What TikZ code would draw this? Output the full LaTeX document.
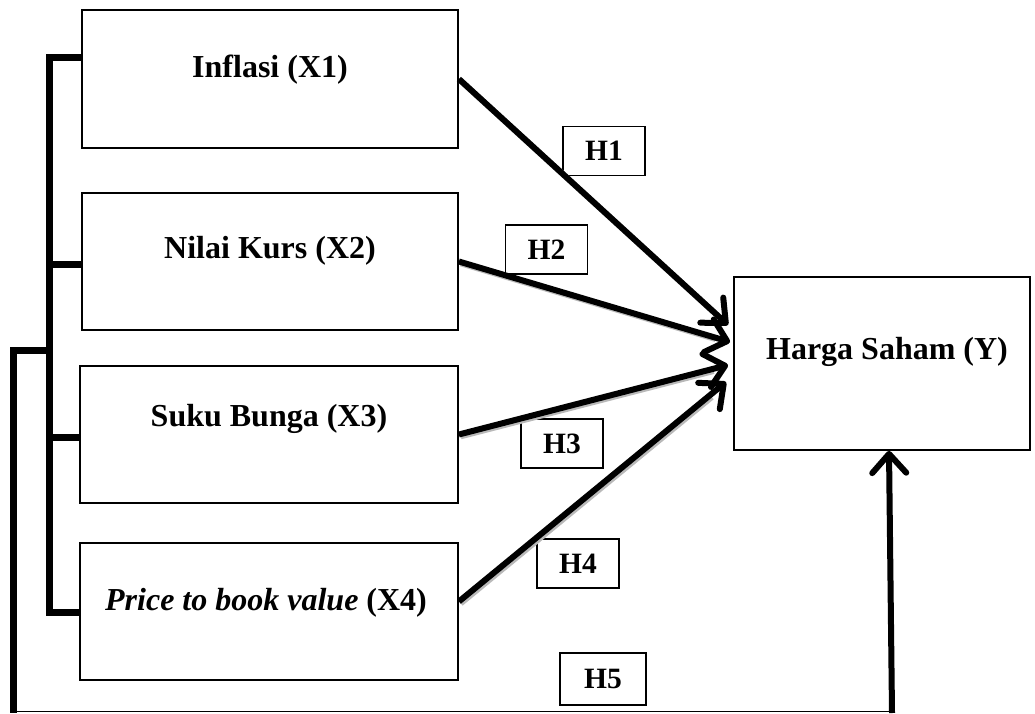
\documentclass[tikz,border=0pt]{standalone}
\usepackage{fontspec}
\setmainfont{Liberation Serif}
\usetikzlibrary{arrows.meta,calc}
\begin{document}
\begin{tikzpicture}[x=1pt,y=1pt,
  varbox/.style={draw,line width=1.8pt,inner sep=0pt},
  maintext/.style={font=\bfseries\fontsize{32}{37}\selectfont,inner sep=0pt},
  hbox/.style={draw,line width=1.5pt,minimum width=82pt,minimum height=49pt,inner sep=0pt,font=\bfseries\fontsize{29.5}{34}\selectfont},
  thick line/.style={line width=7pt},
  hyparrow/.style={line width=6pt,-{Straight Barb[length=19pt,width=34pt,line cap=round,line join=round]}},
  shadowcopy/.style={draw=gray!55,line width=6pt,transform canvas={xshift=1.8pt,yshift=-1.8pt}}
]
\useasboundingbox (0,0) rectangle (1035,713);
% variable boxes
\node[varbox,minimum width=376pt,minimum height=138pt] (b1) at (270,634) {};
\node[varbox,minimum width=376pt,minimum height=137pt] (b2) at (270,451.5) {};
\node[varbox,minimum width=378pt,minimum height=137pt] (b3) at (269,278.5) {};
\node[varbox,minimum width=378pt,minimum height=137pt] (b4) at (269,101.5) {};
\node[varbox,minimum width=296pt,minimum height=173pt] (bY) at (882,349.5) {};
% texts
\node[maintext] (t1) at ($(b1)+(0,9)$) {Inflasi (X1)};
\node[maintext] (t2) at ($(b2)+(0,11)$) {Nilai Kurs (X2)};
\node[maintext] (t3) at ($(b3)+(0,16)$) {Suku Bunga (X3)};
\node[maintext] (t4) at ($(b4)+(-3,9)$) {\textit{Price to book value} (X4)};
\node[maintext] (tY) at ($(bY)+(5,12)$) {Harga Saham (Y)};
% hypothesis labels
\node[hbox] (h1) at (604,562) {H1};
\node[hbox] (h2) at (546.5,463.5) {H2};
\node[hbox] (h3) at (562,269.5) {H3};
\node[hbox] (h4) at (578,149.5) {H4};
\node[hbox,minimum width=86pt,minimum height=52pt] (h5) at (603,34) {H5};
% arrow targets
\coordinate (e1) at (728,388);
\coordinate (e2) at (730,371);
\coordinate (e3) at (728,348);
\coordinate (e4) at (726,331);
\coordinate (s4) at ($(b4.east)+(0,10)$);
% shadows
\draw[shadowcopy] (b1.east) -- ($(b1.east)!0.94!(e1)$);
\draw[shadowcopy] (b2.east) -- ($(b2.east)!0.94!(e2)$);
\draw[shadowcopy] (b3.east) -- ($(b3.east)!0.94!(e3)$);
\draw[shadowcopy] (s4) -- ($(s4)!0.94!(e4)$);
% arrows
\draw[hyparrow] (b1.east) -- (e1);
\draw[hyparrow] (b2.east) -- (e2);
\draw[hyparrow] (b3.east) -- (e3);
\draw[hyparrow] (s4) -- (e4);
% bracket
\coordinate (k1) at (49,655);
\coordinate (k2) at (49,448);
\coordinate (k3) at (49,276);
\coordinate (k4) at (49,101);
\coordinate (kj) at (49,363);
\coordinate (o1) at (13,363);
\coordinate (o2) at (13,0);
\coordinate (o3) at (13,1.5);
\coordinate (o4) at (892,1.5);
\coordinate (o5) at (892,0);
\draw[thick line] (k1 -| b1.west) -- (k1) -- (k4) -- (k4 -| b4.west);
\draw[thick line] (k2) -- (k2 -| b2.west);
\draw[thick line] (k3) -- (k3 -| b3.west);
\draw[thick line,line join=miter] (kj) -- (o1) -- (o2);
\draw[line width=1.5pt] (o3) -- (o4);
\draw[hyparrow] (o5) -- ($(bY.south)+(7,0)$);
\end{tikzpicture}
\end{document}
